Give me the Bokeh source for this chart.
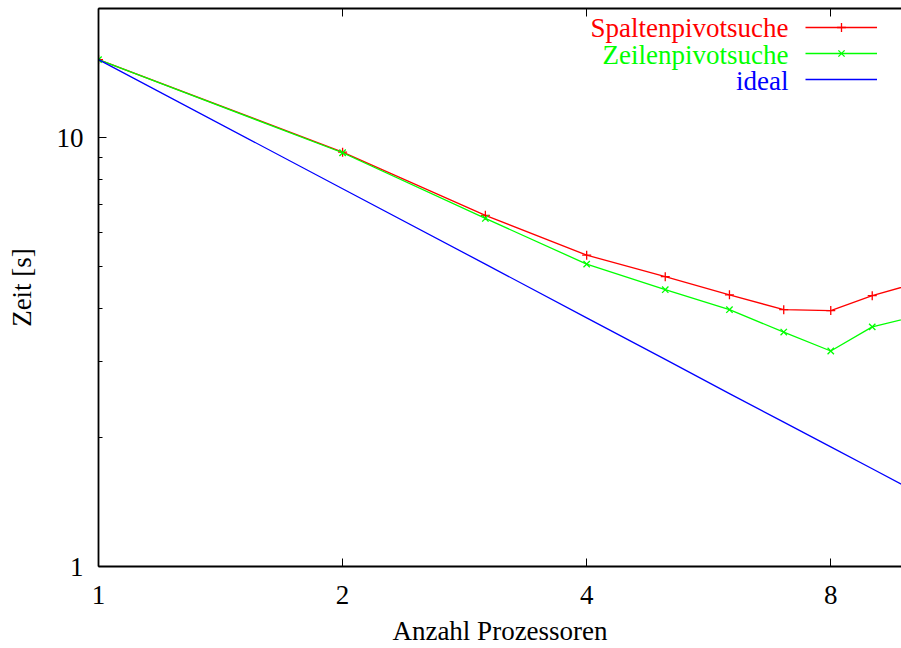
from bokeh.plotting import figure
from bokeh.models import (Range1d, LogAxis, FixedTicker, Legend, LegendItem, Label,
                          PrintfTickFormatter, CustomJSTickFormatter)
from bokeh.embed import file_html
from bokeh.resources import INLINE

# ---- data ----
procs = [1, 2, 3, 4, 5, 6, 7, 8, 9, 10]
spalten = [15.2, 9.25, 6.59, 5.32, 4.74, 4.30, 3.97, 3.95, 4.28, 4.53]
zeilen = [15.2, 9.22, 6.48, 5.07, 4.42, 3.97, 3.52, 3.18, 3.62, 3.80]
ideal = [15.2, 7.6, 5.07, 3.8, 3.04, 2.53, 2.17, 1.9, 1.69, 1.52]
series_names = ["Spaltenpivotsuche", "Zeilenpivotsuche", "ideal"]
colors = ["#ff0000", "#00ff00", "#0000ff"]
x_ticks = [1, 2, 4, 8]
y_ticks = [1, 10]
y_minor = [2, 3, 4, 5, 6, 7, 8, 9, 20]
x_title = "Anzahl Prozessoren"
y_title = "Zeit [s]"

FONT = "Liberation Serif"
FS = "27px"

p = figure(width=901, height=648, x_axis_type="log", y_axis_type="log",
           x_range=Range1d(1, 9.78), y_range=Range1d(1, 20),
           output_backend="svg", toolbar_location=None,
           min_border_left=98, min_border_right=0, min_border_top=8,
           min_border_bottom=80)
p.outline_line_color = None
p.grid.visible = False
p.background_fill_color = "white"
p.border_fill_color = "white"

xa = p.xaxis[0]
xa.ticker = FixedTicker(ticks=x_ticks, minor_ticks=[])
xa.formatter = PrintfTickFormatter(format="%g")
xa.axis_label = x_title
xa.axis_label_standoff = 9
ya = p.yaxis[0]
ya.ticker = FixedTicker(ticks=y_ticks, minor_ticks=y_minor)
ya.formatter = PrintfTickFormatter(format="%g")
ya.axis_label = y_title
ya.axis_label_standoff = 17

for ax in (xa, ya):
    ax.axis_line_width = 1.8
    ax.axis_line_color = "black"
    ax.major_tick_in = 8
    ax.major_tick_out = 0
    ax.minor_tick_in = 4
    ax.minor_tick_out = 0
    ax.major_tick_line_color = "black"
    ax.minor_tick_line_color = "black"
    ax.major_label_text_font = FONT
    ax.major_label_text_font_size = FS
    ax.major_label_text_color = "black"
    ax.axis_label_text_font = FONT
    ax.axis_label_text_font_size = FS
    ax.axis_label_text_font_style = "normal"
    ax.axis_label_text_color = "black"
xa.major_label_standoff = 19
ya.major_label_standoff = 15

top = LogAxis(ticker=FixedTicker(ticks=x_ticks, minor_ticks=[]),
              formatter=CustomJSTickFormatter(code="return ''"),
              major_label_text_font_size="6px", major_label_standoff=0,
              major_tick_in=8, major_tick_out=0, minor_tick_in=0, minor_tick_out=0,
              axis_line_width=1.8, axis_line_color="black")
p.add_layout(top, "above")

renderers = []
for ys, col, mk in ((spalten, colors[0], "cross"), (zeilen, colors[1], "x"), (ideal, colors[2], None)):
    rl = p.line(procs, ys, line_color=col, line_width=1.3)
    rs = []
    if mk:
        rs = [p.scatter(procs, ys, marker=mk, size=9, line_color=col, line_width=1.3)]
    renderers.append([rl] + rs)

legend = Legend(items=[LegendItem(label="", renderers=r) for r in renderers],
                location=(707, 476), glyph_width=72, glyph_height=22, spacing=4,
                label_width=0, label_height=0, label_standoff=0,
                label_text_font_size="10px", padding=0, margin=0,
                border_line_color=None, background_fill_alpha=0)
p.add_layout(legend, "center")

row_y = [538.7, 512.0, 485.7]
for name, col, yy in zip(series_names, colors, row_y):
    p.add_layout(Label(x=690, y=yy, x_units="screen", y_units="screen", text=name,
                       text_align="right", text_baseline="middle",
                       text_font=FONT, text_font_size=FS, text_color=col))

open("out.html", "w").write(file_html(p, INLINE))
